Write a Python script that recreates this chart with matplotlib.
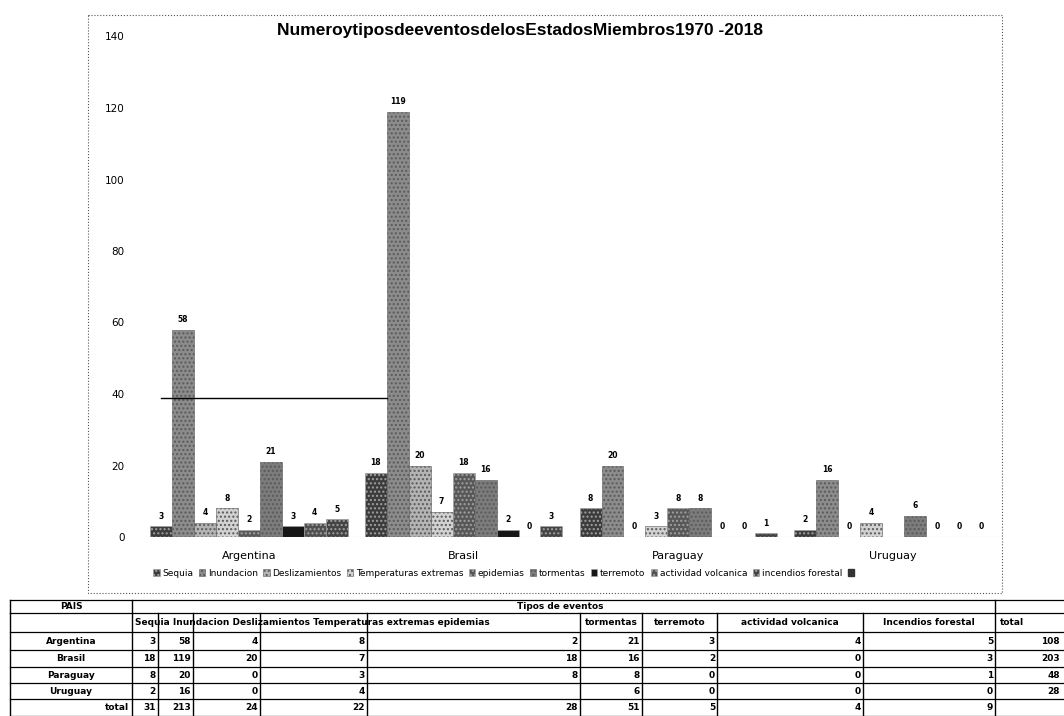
import matplotlib.pyplot as plt
from matplotlib.patches import Patch, Rectangle
import numpy as np

# eventos por pais, 1970-2018
paises = ['Argentina', 'Brasil', 'Paraguay', 'Uruguay']
eventos = ['Sequia', 'Inundacion', 'Deslizamientos', 'Temperaturas extremas', 'epidemias',
           'tormentas', 'terremoto', 'actividad volcanica', 'incendios forestal']
sequia = [3, 18, 8, 2]
inundacion = [58, 119, 20, 16]
deslizamientos = [4, 20, 0, 0]
temperaturas = [8, 7, 3, 4]
epidemias = [2, 18, 8, None]
tormentas = [21, 16, 8, 6]
terremoto = [3, 2, 0, 0]
volcanica = [4, 0, 0, 0]
incendios = [5, 3, 1, 0]
nivel_linea = 39
yticks = [0, 20, 40, 60, 80, 100, 120, 140]

series = [sequia, inundacion, deslizamientos, temperaturas, epidemias,
          tormentas, terremoto, volcanica, incendios]
colores = ['#3c3c3c', '#8c8c8c', '#b4b4b4', '#d2d2d2', '#585858',
           '#7c7c7c', '#161616', '#505050', '#444444']
tramas = ['....', '....', '....', '....', '....', '....', '', '....', '....']

W, H = 1064, 716
fig = plt.figure(figsize=(W / 100, H / 100), dpi=100)
fig.patch.set_facecolor('white')

# capa en pixeles para marco y tabla
capa = fig.add_axes([0, 0, 1, 1])
capa.set_xlim(0, W)
capa.set_ylim(H, 0)
capa.axis('off')
capa.add_patch(Rectangle((88, 15), 1002 - 88, 593 - 15, fill=False, ls=':', lw=0.8, ec='#555555'))

ax = fig.add_axes([141.5 / W, 179 / H, 859 / W, 500.5 / H])
x = np.arange(len(paises))
n = len(series)
w = 0.92 / n
handles = []
for k, (vals, col, lab, tr) in enumerate(zip(series, colores, eventos, tramas)):
    v = np.array([np.nan if a is None else a for a in vals], dtype=float)
    xs = x + (k - (n - 1) / 2) * w
    b = ax.bar(xs, v, w, color=col, edgecolor='#a0a0a0' if k in (0, 4, 6, 7, 8) else '#5a5a5a',
               hatch=tr, lw=0.4, label=lab)
    handles.append(b)
    for xi, vi in zip(xs, v):
        if not np.isnan(vi):
            ax.annotate(f'{vi:g}', (xi, vi), xytext=(0, 4), textcoords='offset points',
                        ha='center', va='bottom', fontsize=5.5, fontweight='bold')

# linea horizontal entre Argentina y Brasil
x0 = x[0] - (n - 1) / 2 * w
x1 = x[1] + (1 - (n - 1) / 2) * w - w / 2
ax.plot([x0, x1], [nivel_linea, nivel_linea], color='black', lw=1)

ax.axhline(0, color='#777777', lw=0.8, ls=':')
ax.set_xlim(-0.5, len(paises) - 0.5)
ax.set_ylim(0, 140)
ax.set_yticks(yticks)
ax.set_xticks(x)
ax.set_xticklabels(paises)
ax.tick_params(axis='y', length=0, pad=12, labelsize=7.5)
ax.tick_params(axis='x', length=0, pad=10, labelsize=8)
for s in ax.spines.values():
    s.set_visible(False)
ax.patch.set_alpha(0)

fig.text(520 / W, 1 - 31 / H, 'NumeroytiposdeeventosdelosEstadosMiembros1970 -2018',
         ha='center', va='center', fontsize=12.5, fontweight='bold', family='Liberation Sans')

handles.append(Patch(facecolor='#333333', edgecolor='#333333'))
fig.legend(handles, eventos + [''], loc='center', bbox_to_anchor=(505 / W, 1 - 573 / H),
           ncol=10, frameon=False, fontsize=6.5, handlelength=0.7, handleheight=0.7,
           handletextpad=0.3, columnspacing=0.6)

# tabla de datos
bordes = [10, 132, 158, 193, 260, 367, 580, 642, 717, 863, 995, 1064]
filas = [600, 613, 632, 650, 667, 683, 699, 716]
for yy in filas:
    capa.plot([10, W], [yy, yy], color='black', lw=0.9)
for xx in [10, 132, 995]:
    capa.plot([xx, xx], [filas[0], filas[1]], color='black', lw=1)
for xx in bordes[:-1]:
    capa.plot([xx, xx], [filas[1], filas[-1]], color='black', lw=1)

fs = 6.5
capa.text(71, (filas[0] + filas[1]) / 2, 'PAIS', ha='center', va='center', fontsize=fs, fontweight='bold')
capa.text(560, (filas[0] + filas[1]) / 2, 'Tipos de eventos', ha='center', va='center', fontsize=fs, fontweight='bold')
yc = (filas[1] + filas[2]) / 2
capa.text(135, yc, 'Sequia Inundacion Deslizamientos Temperaturas extremas epidemias',
          ha='left', va='center', fontsize=fs, fontweight='bold')
for txt, i in [('tormentas', 6), ('terremoto', 7), ('actividad volcanica', 8), ('Incendios forestal', 9)]:
    capa.text((bordes[i] + bordes[i + 1]) / 2, yc, txt, ha='center', va='center', fontsize=fs, fontweight='bold')
capa.text(1000, yc, 'total', ha='left', va='center', fontsize=fs, fontweight='bold')

for r, pais in enumerate(paises):
    yr = (filas[r + 2] + filas[r + 3]) / 2
    capa.text(71, yr, pais, ha='center', va='center', fontsize=fs, fontweight='bold')
    vals = [s[r] for s in series]
    for c, v in enumerate(vals):
        if v is not None:
            capa.text(bordes[c + 2] - 2, yr, str(v), ha='right', va='center', fontsize=fs, fontweight='bold')
    capa.text(bordes[-1] - 4, yr, str(sum(v for v in vals if v is not None)),
              ha='right', va='center', fontsize=fs, fontweight='bold')

yr = (filas[-2] + filas[-1]) / 2
capa.text(bordes[1] - 3, yr, 'total', ha='right', va='center', fontsize=fs, fontweight='bold')
for c, s in enumerate(series):
    capa.text(bordes[c + 2] - 2, yr, str(sum(v for v in s if v is not None)),
              ha='right', va='center', fontsize=fs, fontweight='bold')

fig.savefig('out.png', dpi=100)
